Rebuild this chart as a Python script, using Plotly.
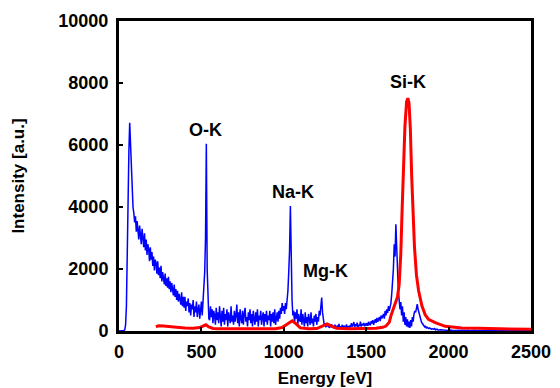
import plotly.graph_objects as go

# ---- data ----
blue_energy = list(range(0, 2505, 5))  # channel energies [eV]
blue_counts = [
    # 0-95
    0, 0, 0, 0, 5, 10, 20, 40, 200, 800, 3000, 5000, 5800, 6720, 6000, 5000, 4800, 4000, 3800, 3500,
    # 100-195
    3700, 3200, 3550, 3300, 2950, 3400, 3100, 2800, 3300, 2900, 2700, 3150, 2600, 2950, 2450, 2800, 2650, 2250, 2700, 2300,
    # 200-295
    2550, 2100, 2400, 1950, 2300, 2200, 1850, 2250, 1800, 2050, 1700, 2100, 1600, 1900, 1750, 1500, 1850, 1450, 1700, 1400,
    # 300-395
    1750, 1350, 1600, 1250, 1550, 1300, 1150, 1500, 1100, 1350, 1000, 1300, 950, 1200, 1050, 850, 1250, 800, 1100, 750,
    # 400-495
    1100, 650, 950, 800, 1050, 600, 900, 500, 850, 700, 1000, 450, 800, 600, 950, 450, 700, 850, 400, 750,
    # 500-595
    950, 500, 1000, 1300, 1900, 3000, 6040, 2000, 700, 400, 350, 800, 450, 700, 250, 650, 500, 200, 750, 350,
    # 600-695
    600, 250, 800, 400, 150, 650, 300, 750, 200, 550, 350, 700, 150, 600, 400, 250, 800, 300, 500, 200,
    # 700-795
    650, 300, 500, 850, 250, 600, 150, 700, 400, 250, 650, 200, 550, 750, 300, 450, 150, 600, 350, 700,
    # 800-895
    250, 550, 150, 650, 400, 200, 600, 300, 700, 150, 500, 350, 650, 200, 450, 600, 150, 550, 300, 650,
    # 900-995
    200, 500, 350, 650, 150, 550, 300, 600, 250, 700, 200, 450, 600, 300, 650, 400, 750, 550, 900, 650,
    # 1000-1095
    800, 550, 900, 700, 1000, 1300, 1900, 2600, 4030, 2200, 1000, 500, 650, 250, 600, 400, 700, 200, 550, 350,
    # 1100-1195
    300, 700, 200, 550, 350, 150, 600, 250, 450, 150, 550, 300, 200, 600, 250, 400, 150, 500, 300, 550,
    # 1200-1295
    200, 450, 300, 650, 500, 800, 1080, 600, 300, 200, 250, 120, 200, 150, 250, 100, 180, 120, 220, 100,
    # 1300-1395
    150, 90, 200, 120, 80, 180, 110, 230, 90, 150, 100, 200, 80, 170, 120, 90, 210, 110, 160, 100,
    # 1400-1495
    180, 120, 250, 140, 200, 290, 130, 220, 150, 270, 120, 200, 160, 300, 140, 230, 180, 260, 150, 220,
    # 1500-1595
    190, 260, 170, 300, 220, 180, 320, 240, 350, 200, 300, 380, 260, 420, 300, 350, 450, 320, 500, 400,
    # 1600-1695
    450, 550, 400, 650, 500, 700, 580, 800, 650, 750, 900, 1200, 1600, 2000, 2800, 2400, 3440, 2600, 2000, 1300,
    # 1700-1795
    1000, 700, 930, 500, 800, 300, 600, 200, 450, 150, 380, 120, 300, 100, 350, 150, 450, 300, 550, 650,
    # 1800-1895
    600, 750, 870, 700, 600, 450, 350, 290, 250, 200, 160, 130, 150, 100, 120, 90, 80, 100, 70, 60,
    # 1900-1995
    70, 50, 60, 80, 40, 50, 60, 30, 45, 35, 40, 30, 25, 35, 30, 20, 30, 25, 20, 25,
    # 2000-2095
    20, 25, 15, 30, 20, 25, 15, 20, 25, 20, 15, 25, 20, 15, 20, 10, 20, 15, 20, 25,
    # 2100-2195
    15, 20, 10, 15, 20, 10, 15, 10, 20, 15, 10, 15, 20, 10, 15, 10, 15, 20, 10, 15,
    # 2200-2295
    10, 15, 10, 15, 10, 10, 15, 10, 15, 10, 15, 10, 20, 15, 10, 15, 10, 15, 10, 10,
    # 2300-2395
    15, 10, 15, 10, 10, 15, 10, 15, 10, 10, 15, 10, 10, 15, 10, 15, 10, 10, 15, 10,
    # 2400-2495
    10, 15, 10, 10, 15, 10, 10, 15, 10, 10, 15, 10, 10, 15, 10, 10, 15, 10, 10, 15,
    # 2500
    10,
]

red_energy = [224, 240, 270, 300, 350, 400, 450, 490, 510, 527, 545, 570, 600,
              700, 800, 900, 950, 990, 1020, 1051, 1075, 1100, 1150, 1200,
              1240, 1263, 1290, 1320, 1400, 1500, 1560, 1600, 1620, 1640,
              1650, 1670, 1690, 1700, 1710, 1717, 1725, 1735, 1745, 1753,
              1760, 1768, 1776, 1784, 1793, 1805, 1818, 1838, 1858, 1878,
              1919, 1979, 2080, 2180, 2282, 2400, 2500]
red_counts = [130, 170, 160, 140, 120, 100, 90, 110, 160, 200, 130, 80, 70,
              65, 65, 65, 70, 110, 230, 330, 230, 100, 70, 80,
              170, 225, 160, 90, 70, 75, 90, 120, 160, 280,
              490, 800, 1100, 1500, 2500, 3750, 5000, 6600, 7400, 7510,
              7350, 6500, 5000, 3750, 2700, 1800, 1300, 810, 520, 380,
              270, 150, 100, 85, 75, 65, 55]

peak_labels = ["O-K", "Na-K", "Mg-K", "Si-K"]
x_ticks = [0, 500, 1000, 1500, 2000, 2500]
y_ticks = [0, 2000, 4000, 6000, 8000, 10000]

FONT = "Liberation Sans, Arial, Helvetica, sans-serif"

fig = go.Figure()
fig.add_trace(go.Scatter(x=blue_energy, y=blue_counts, mode="lines",
                         line=dict(color="#0000ff", width=1.5),
                         showlegend=False, hoverinfo="skip"))
fig.add_trace(go.Scatter(x=red_energy, y=red_counts, mode="lines",
                         line=dict(color="#ff0000", width=3),
                         showlegend=False, hoverinfo="skip"))

label_pos = [(527, 6500), (1056, 4500), (1256, 1950), (1752, 8020)]
for txt, (lx, ly) in zip(peak_labels, label_pos):
    fig.add_annotation(x=lx, y=ly, text=txt, showarrow=False,
                       xanchor="center", yanchor="middle",
                       font=dict(family=FONT, size=18, color="black", weight="bold"))

axis_common = dict(
    showline=True, linecolor="black", linewidth=3, mirror=True,
    showgrid=False, zeroline=False, automargin=False,
    ticks="inside", ticklen=4, tickwidth=2, tickcolor="black",
    tickfont=dict(family=FONT, size=18, color="black", weight="bold"),
)

fig.update_xaxes(range=[0, 2500], tickvals=x_ticks,
                 ticktext=[str(v) for v in x_ticks],
                 ticklabelstandoff=2,
                 title=dict(text="Energy [eV]", standoff=12,
                            font=dict(family=FONT, size=17, color="black", weight="bold")),
                 **axis_common)
fig.update_yaxes(range=[0, 10000], tickvals=y_ticks,
                 ticktext=[str(v) for v in y_ticks],
                 ticklabelstandoff=4,
                 title=dict(text="Intensity [a.u.]", standoff=30,
                            font=dict(family=FONT, size=17, color="black", weight="bold")),
                 **axis_common)

fig.update_layout(
    width=560, height=388,
    margin=dict(l=119, r=29, t=21, b=57, autoexpand=False),
    paper_bgcolor="white", plot_bgcolor="white",
)

fig.write_html("out.html", config={"displayModeBar": False},
               post_script="document.body.style.margin='0';document.body.style.overflow='hidden';")
